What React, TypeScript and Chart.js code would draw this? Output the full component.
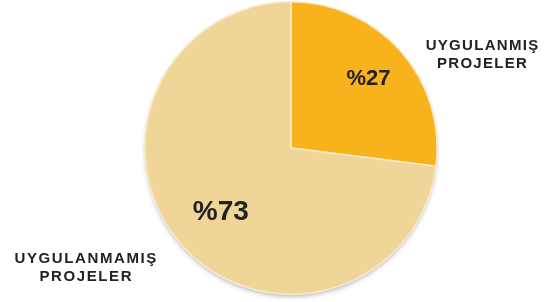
import React, { useEffect, useRef } from "react";
import { Chart, registerables } from "chart.js";

Chart.register(...registerables);

const categories = ["UYGULANMIŞ PROJELER", "UYGULANMAMIŞ PROJELER"];
const values = [27, 73];
const valueLabels = ["%27", "%73"];
const colors = ["#F8B21C", "#EFD597"];

const shadowPlugin = {
  id: "pieShadow",
  beforeDatasetsDraw(chart: any) {
    const meta = chart.getDatasetMeta(0);
    const arc = meta.data[0];
    if (!arc) return;
    const { x, y, outerRadius } = arc.getProps(["x", "y", "outerRadius"], true);
    const ctx = chart.ctx;
    ctx.save();
    ctx.shadowColor = "rgba(80,80,100,0.45)";
    ctx.shadowBlur = 5;
    ctx.shadowOffsetY = 3;
    ctx.beginPath();
    ctx.arc(x, y, outerRadius - 1, 0, Math.PI * 2);
    ctx.fillStyle = colors[1];
    ctx.fill();
    ctx.restore();
  },
};

const labelsPlugin = {
  id: "pieLabels",
  afterDatasetsDraw(chart: any) {
    const ctx = chart.ctx;
    const meta = chart.getDatasetMeta(0);
    ctx.save();
    ctx.fillStyle = "#222222";
    ctx.textAlign = "center";
    ctx.textBaseline = "middle";
    const c = meta.data[0].getProps(["x", "y", "outerRadius"], true);
    const R = c.outerRadius;
    // value labels inside slices
    const valuePos = [
      { dx: 0.53, dy: -0.47, f: 22 },
      { dx: -0.48, dy: 0.44, f: 28 },
    ];
    valuePos.forEach((v, i) => {
      ctx.font = `bold ${v.f}px Arial, "Liberation Sans", sans-serif`;
      ctx.fillText(valueLabels[i], c.x + v.dx * R, c.y + v.dy * R);
    });
    // category labels outside
    ctx.font = 'bold 15px Arial, "Liberation Sans", sans-serif';
    (ctx as any).letterSpacing = "1.3px";
    const words0 = categories[0].split(" ");
    const words1 = categories[1].split(" ");
    const rx = c.x + R * 1.31;
    const ry = c.y - R * 0.70;
    ctx.fillText(words0[0], rx, ry);
    ctx.fillText(words0[1], rx, ry + 18);
    (ctx as any).letterSpacing = "1.6px";
    const lx = c.x - R * 1.40;
    const ly = c.y + R * 0.755;
    ctx.fillText(words1[0], lx, ly);
    ctx.fillText(words1[1], lx, ly + 18);
    ctx.restore();
  },
};

export default function App() {
  const ref = useRef<HTMLCanvasElement | null>(null);
  useEffect(() => {
    const prevMargin = document.body.style.margin;
    document.body.style.margin = "0";
    const chart = new Chart(ref.current as HTMLCanvasElement, {
      type: "pie",
      data: {
        labels: categories,
        datasets: [
          {
            data: values,
            backgroundColor: colors,
            borderColor: "#F7EBCB",
            borderWidth: 1.5,
          },
        ],
      },
      options: {
        responsive: false,
        animation: false,
        layout: { padding: { left: 144, right: 106, top: 1, bottom: 7 } },
        plugins: {
          legend: { display: false },
          tooltip: { enabled: false },
        },
      },
      plugins: [shadowPlugin, labelsPlugin],
    });
    return () => {
      chart.destroy();
      document.body.style.margin = prevMargin;
    };
  }, []);
  return (
    <div style={{ width: 544, height: 302, background: "#ffffff" }}>
      <canvas ref={ref} width={544} height={302} style={{ display: "block" }} />
    </div>
  );
}
